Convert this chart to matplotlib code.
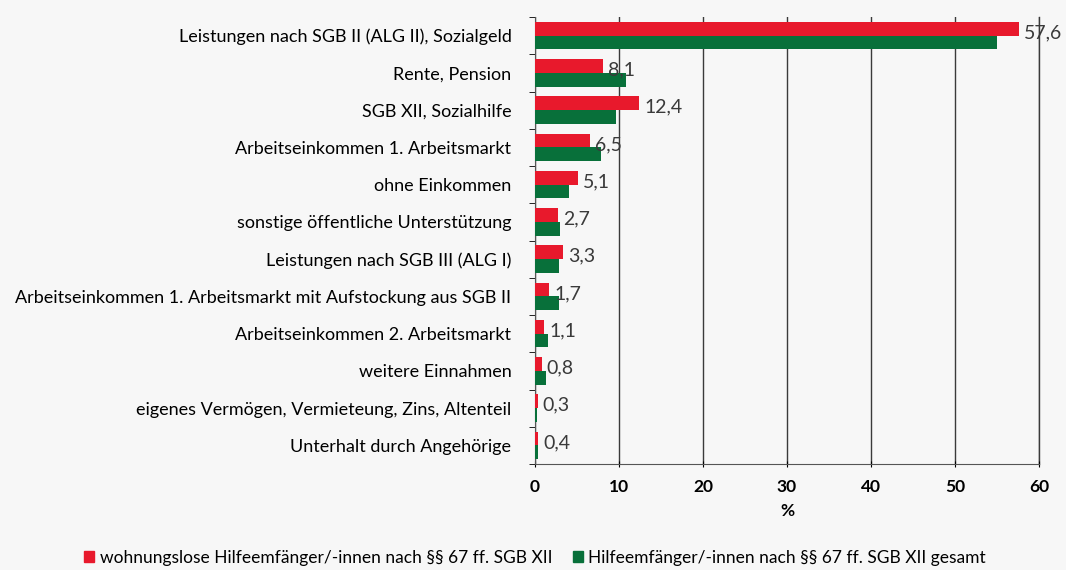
import numpy as np
import matplotlib as mpl
mpl.use('Agg')
import matplotlib.pyplot as plt
from matplotlib.patches import Patch

plt.rcParams['font.family'] = ['Lato', 'DejaVu Sans']

categories = [
    'Leistungen nach SGB II (ALG II), Sozialgeld',
    'Rente, Pension',
    'SGB XII, Sozialhilfe',
    'Arbeitseinkommen 1. Arbeitsmarkt',
    'ohne Einkommen',
    'sonstige öffentliche Unterstützung',
    'Leistungen nach SGB III (ALG I)',
    'Arbeitseinkommen 1. Arbeitsmarkt mit Aufstockung aus SGB II',
    'Arbeitseinkommen 2. Arbeitsmarkt',
    'weitere Einnahmen',
    'eigenes Vermögen, Vermieteung, Zins, Altenteil',
    'Unterhalt durch Angehörige',
]
wohnungslos = [57.6, 8.1, 12.4, 6.5, 5.1, 2.7, 3.3, 1.7, 1.1, 0.8, 0.3, 0.4]
gesamt = [55.0, 10.8, 9.7, 7.8, 4.1, 3.0, 2.9, 2.8, 1.5, 1.3, 0.2, 0.3]
x_ticks = [0, 10, 20, 30, 40, 50, 60]

red = '#e8192c'
green = '#08703a'

fig = plt.figure(figsize=(10.66, 5.70), dpi=100)
ax = fig.add_axes([535/1066, 1 - 464/570, 504/1066, 447/570])

y = np.arange(len(categories))
h = 0.37
ax.barh(y - h/2, wohnungslos, height=h, color=red, zorder=3)
ax.barh(y + h/2, gesamt, height=h, color=green, zorder=3)

for yi, v in zip(y, wohnungslos):
    ax.text(v + 0.6, yi - 0.08, f'{v:.1f}'.replace('.', ','), va='center', ha='left',
            fontsize=14, color='#3a3a3a', zorder=4)

ax.set_xlim(0, 60)
ax.set_ylim(len(categories) - 0.5, -0.5)
ax.set_xticks(x_ticks)
ax.set_xticklabels([str(t) for t in x_ticks], fontsize=12.5, fontweight='bold')
ax.set_yticks(y)
ax.set_yticklabels(categories, fontsize=13)
ax.set_yticks(np.arange(len(categories) + 1) - 0.5, minor=True)
ax.tick_params(axis='y', which='major', length=0, pad=17)
ax.tick_params(axis='y', which='minor', length=4, direction='out')
ax.tick_params(axis='x', length=5, direction='inout', pad=8)
ax.set_xlabel('%', fontsize=12.5, fontweight='bold', labelpad=6)

ax.grid(axis='x', color='#3a3a3a', linewidth=1, zorder=0)
ax.axvline(60, color='#3a3a3a', linewidth=1, clip_on=False, zorder=0)
for s in ['top', 'right']:
    ax.spines[s].set_visible(False)
ax.spines['left'].set_color('#555555')
ax.spines['bottom'].set_color('#555555')

handles = [Patch(color=red), Patch(color=green)]
labels = ['wohnungslose Hilfeemfänger/-innen nach §§ 67 ff. SGB XII',
          'Hilfeemfänger/-innen nach §§ 67 ff. SGB XII gesamt']
fig.legend(handles, labels, loc='center', bbox_to_anchor=(535/1066, 1 - 558/570),
           ncol=2, frameon=False, fontsize=12.5, handlelength=0.6, handleheight=0.6,
           handletextpad=0.3, columnspacing=1.2)

fig.patch.set_facecolor('#f7f7f7')
ax.set_facecolor('#f7f7f7')
fig.savefig('out.png', dpi=100, facecolor=fig.get_facecolor())
